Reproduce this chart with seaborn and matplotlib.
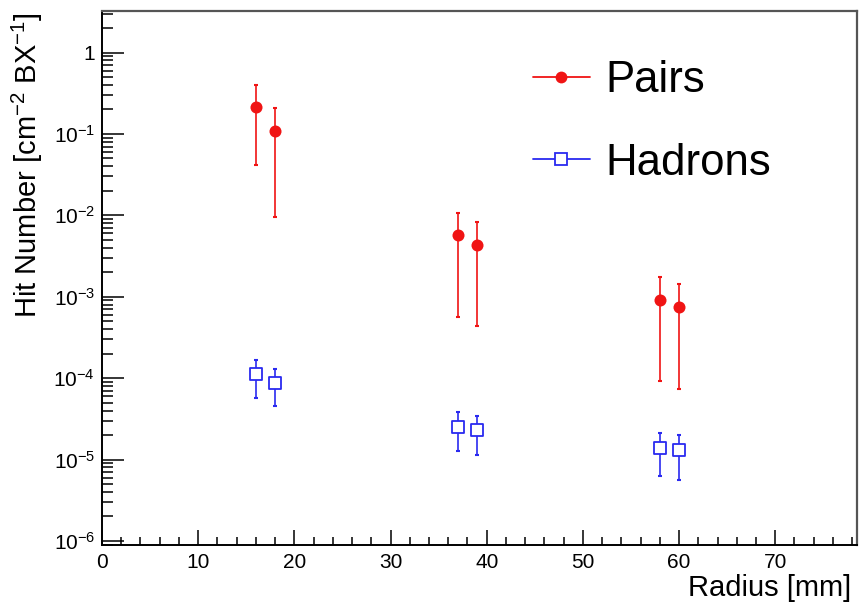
import numpy as np
import pandas as pd
import matplotlib
matplotlib.use("Agg")
import matplotlib.pyplot as plt
import matplotlib.ticker as mticker
from matplotlib.lines import Line2D
import seaborn as sns

# values
radius = [16, 18, 37, 39, 58, 60]

pairs = [0.217, 0.108, 5.7e-3, 4.35e-3, 9.1e-4, 7.4e-4]
pairs_hi = [0.397, 0.207, 1.07e-2, 8.3e-3, 1.76e-3, 1.43e-3]
pairs_lo = [4.2e-2, 9.5e-3, 5.7e-4, 4.35e-4, 9.1e-5, 7.4e-5]

hadrons = [1.13e-4, 8.65e-5, 2.54e-5, 2.31e-5, 1.39e-5, 1.30e-5]
hadrons_hi = [1.66e-4, 1.28e-4, 3.8e-5, 3.43e-5, 2.1e-5, 2.0e-5]
hadrons_lo = [5.7e-5, 4.5e-5, 1.27e-5, 1.13e-5, 6.3e-6, 5.6e-6]

ytick_vals = [1, 1e-1, 1e-2, 1e-3, 1e-4, 1e-5, 1e-6]
ytick_labels = ["1", "$10^{-1}$", "$10^{-2}$", "$10^{-3}$", "$10^{-4}$", "$10^{-5}$", "$10^{-6}$"]

RED = "#f01414"
BLUE = "#2a2af0"

sns.set_theme(style="white")
plt.rcParams["font.family"] = ["Liberation Sans", "DejaVu Sans"]
plt.rcParams["mathtext.fontset"] = "custom"
plt.rcParams["mathtext.rm"] = "Liberation Sans"
plt.rcParams["mathtext.it"] = "Liberation Sans"
plt.rcParams["mathtext.default"] = "regular"
plt.rcParams["text.color"] = "black"
plt.rcParams["axes.labelcolor"] = "black"
plt.rcParams["xtick.color"] = "black"
plt.rcParams["ytick.color"] = "black"

df = pd.DataFrame({"radius": radius, "pairs": pairs, "hadrons": hadrons})

fig = plt.figure(figsize=(8.59, 6.09), dpi=100)
ax = fig.add_axes([102 / 859, 64 / 609, 755 / 859, 534 / 609])

p = np.array(pairs)
h = np.array(hadrons)
ax.errorbar(radius, pairs, yerr=[p - np.array(pairs_lo), np.array(pairs_hi) - p],
            fmt="none", ecolor=RED, elinewidth=1.2, capsize=1.3, capthick=1.5, zorder=2)
ax.errorbar(radius, hadrons, yerr=[h - np.array(hadrons_lo), np.array(hadrons_hi) - h],
            fmt="none", ecolor=BLUE, elinewidth=1.2, capsize=1.3, capthick=1.5, zorder=2)

sns.scatterplot(data=df, x="radius", y="pairs", ax=ax, marker="o", s=75,
                color=RED, edgecolor=RED, linewidth=0, zorder=3, legend=False)
sns.scatterplot(data=df, x="radius", y="hadrons", ax=ax, marker="s", s=80,
                facecolor="white", edgecolor=BLUE, linewidth=1.3, zorder=3, legend=False)

ax.set_yscale("log")
ax.set_xlim(0, 78.5)
ax.set_ylim(10 ** -6.05, 10 ** 0.51)

ax.set_yticks(ytick_vals)
ax.set_yticklabels(ytick_labels)
ax.yaxis.set_minor_locator(mticker.LogLocator(base=10, subs=np.arange(2, 10), numticks=20))
ax.yaxis.set_minor_formatter(mticker.NullFormatter())
ax.xaxis.set_major_locator(mticker.MultipleLocator(10))
ax.xaxis.set_minor_locator(mticker.MultipleLocator(2))

ax.tick_params(axis="both", which="both", direction="in", top=False, right=False,
               left=True, bottom=True, color="black", width=1.1)
ax.tick_params(axis="y", which="major", length=16, labelsize=15, pad=5)
ax.tick_params(axis="y", which="minor", length=8)
ax.tick_params(axis="x", which="major", length=11, labelsize=15, pad=6)
ax.tick_params(axis="x", which="minor", length=5.5)

for side in ["left", "bottom"]:
    ax.spines[side].set_color("black")
    ax.spines[side].set_linewidth(1.4)
for side in ["top", "right"]:
    ax.spines[side].set_color("#555555")
    ax.spines[side].set_linewidth(1.6)

ax.set_xlabel("Radius [mm]", fontsize=21, loc="right")
ax.xaxis.set_label_coords(0.993, -0.055)
ax.set_ylabel("Hit Number [cm$^{-2}$ BX$^{-1}$]", fontsize=21, loc="top")
ax.yaxis.set_label_coords(-0.075, 0.998)

handles = [
    Line2D([], [], color=RED, lw=1.3, marker="o", markersize=8.5, markeredgewidth=0),
    Line2D([], [], color=BLUE, lw=1.3, marker="s", markersize=8, markerfacecolor="white",
           markeredgecolor=BLUE, markeredgewidth=1.3),
]
ax.legend(handles, ["Pairs", "Hadrons"], loc="upper left", bbox_to_anchor=(533 / 859, 1 - 60 / 609),
          bbox_transform=fig.transFigure, frameon=False, fontsize=31.5, handlelength=1.3,
          handletextpad=0.35, labelspacing=0.95, borderpad=0, borderaxespad=0)

fig.savefig("out.png", dpi=100)
